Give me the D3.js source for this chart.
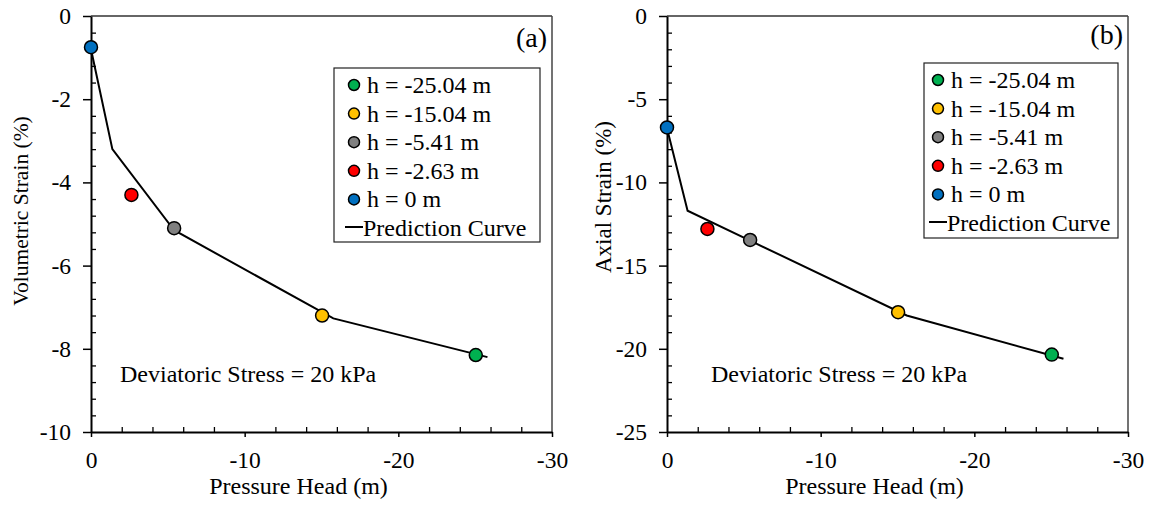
<!DOCTYPE html>
<html><head><meta charset="utf-8">
<script src="https://cdn.jsdelivr.net/npm/d3@7/dist/d3.min.js"></script>
<style>
html,body{margin:0;padding:0;background:#fff;}
svg text{font-family:'Liberation Serif','Times New Roman','DejaVu Serif',serif !important;fill:#000;}
</style></head>
<body>
<svg id="chart" width="1153" height="506"></svg>
<script>
// ---- data ----
const seriesLabels = ["h = -25.04 m","h = -15.04 m","h = -5.41 m","h = -2.63 m","h = 0 m"];
const seriesColors = ["#00B050","#FFC000","#808080","#FF0000","#0070C0"];
const pressureHead = [-25.04,-15.04,-5.41,-2.63,0];
const volStrain = [-8.15,-7.2,-5.1,-4.3,-0.75];
const axialStrain = [-20.35,-17.8,-13.46,-12.8,-6.7];
const volCurveX = [0,-1.39,-5.41,-15.77,-25.8];
const volCurveY = [-0.8,-3.2,-5.15,-7.27,-8.2];
const axCurveX = [0,-1.34,-5.41,-15.6,-25.8];
const axCurveY = [-6.75,-11.7,-13.5,-18.0,-20.6];
const xTicks = [0,-10,-20,-30];
const volTicks = [0,-2,-4,-6,-8,-10];
const axTicks = [0,-5,-10,-15,-20,-25];

const FONT = "'Liberation Serif','Times New Roman','DejaVu Serif',serif";
const svg = d3.select("#chart").attr("font-family", FONT);
const W = 461, H = 416, TOP = 16;
const fmt = d => String(d);

function panel(opt){
  const g = svg.append("g").attr("transform",`translate(${opt.left},${TOP})`);
  const x = d3.scaleLinear().domain([0,-30]).range([0,W]);
  const y = d3.scaleLinear().domain([0,opt.ymin]).range([0,H]);

  // frame top/right
  g.append("line").attr("x1",0).attr("x2",W).attr("y1",0).attr("y2",0).attr("stroke","#333").attr("stroke-width",1.5);
  g.append("line").attr("x1",W).attr("x2",W).attr("y1",0).attr("y2",H).attr("stroke","#444").attr("stroke-width",1.5);

  // minor ticks (inside)
  const xMinor = d3.range(0,-30.01,-2).filter(v=>v%10!==0);
  g.append("g").attr("transform",`translate(0,${H})`)
    .call(d3.axisBottom(x).tickValues(xMinor).tickSize(-5).tickFormat(""))
    .call(s=>s.select(".domain").remove())
    .call(s=>s.selectAll("line").attr("stroke","#000").attr("stroke-width",1.3));
  const yMinor = d3.range(0,opt.ymin-0.001,-opt.minorStep).filter(v=>Math.abs(v/opt.majorStep-Math.round(v/opt.majorStep))>1e-6);
  g.append("g")
    .call(d3.axisLeft(y).tickValues(yMinor).tickSize(-5).tickFormat(""))
    .call(s=>s.select(".domain").remove())
    .call(s=>s.selectAll("line").attr("stroke","#000").attr("stroke-width",1.3));

  // major axes
  const xa = g.append("g").attr("transform",`translate(0,${H})`)
    .call(d3.axisBottom(x).tickValues(xTicks).tickSize(5).tickSizeOuter(0).tickFormat(fmt));
  xa.attr("font-family",FONT);
  xa.select(".domain").attr("stroke","#000").attr("stroke-width",2);
  xa.selectAll("line").attr("stroke","#000").attr("stroke-width",1.5);
  xa.selectAll("text").attr("font-size",23.5).attr("dy",null).attr("y",36);

  const ya = g.append("g")
    .call(d3.axisLeft(y).tickValues(opt.yTicks).tickSize(8).tickSizeOuter(0).tickFormat(fmt));
  ya.attr("font-family",FONT);
  ya.select(".domain").attr("stroke","#000").attr("stroke-width",2);
  ya.selectAll("line").attr("stroke","#000").attr("stroke-width",1.5);
  ya.selectAll("text").attr("font-size",23.5).attr("x",-20);

  // curve
  const curve = opt.cx.map((v,i)=>[v,opt.cy[i]]);
  g.append("path").datum(curve)
    .attr("d",d3.line().x(d=>x(d[0])).y(d=>y(d[1])))
    .attr("fill","none").attr("stroke","#000").attr("stroke-width",2);

  // points
  g.selectAll("circle.pt").data(pressureHead.map((h,i)=>({h,v:opt.vals[i],c:seriesColors[i]})))
    .enter().append("circle").attr("class","pt")
    .attr("cx",d=>x(d.h)).attr("cy",d=>y(d.v)).attr("r",6.5)
    .attr("fill",d=>d.c).attr("stroke","#000").attr("stroke-width",1.5);

  // panel label
  g.append("text").attr("x",W-5).attr("y",opt.tagY).attr("text-anchor","end")
    .attr("font-size",28).text(opt.tag);

  // legend
  const L = opt.legend;
  const lg = g.append("g").attr("transform",`translate(${L.x},${L.y})`);
  lg.append("rect").attr("width",L.w).attr("height",L.h).attr("fill","#fff").attr("stroke","#222").attr("stroke-width",1.2);
  const rowH = 28.6;
  seriesLabels.forEach((lab,i)=>{
    const cy = L.first + i*rowH;
    lg.append("circle").attr("cx",L.cx).attr("cy",cy).attr("r",5.5)
      .attr("fill",seriesColors[i]).attr("stroke","#000").attr("stroke-width",1.5);
    lg.append("text").attr("x",L.tx).attr("y",cy).attr("dy","0.33em").attr("font-size",24).text(lab);
  });
  const ly = L.first + 5*rowH;
  lg.append("line").attr("x1",L.cx-9).attr("x2",L.cx+9).attr("y1",ly-1).attr("y2",ly-1).attr("stroke","#000").attr("stroke-width",2);
  lg.append("text").attr("x",L.tx-4).attr("y",ly).attr("dy","0.33em").attr("font-size",24).text("Prediction Curve");

  // annotation
  g.append("text").attr("x",opt.annX).attr("y",382-TOP).attr("font-size",24).text("Deviatoric Stress = 20 kPa");

  // axis titles
  svg.append("text").attr("x",opt.left+W/2-23).attr("y",494).attr("text-anchor","middle")
    .attr("font-size",24).text("Pressure Head (m)");
  svg.append("text").attr("transform",`translate(${opt.ylabX},${opt.ylabY}) rotate(-90)`)
    .attr("text-anchor","middle").attr("font-size",opt.ylabSize).text(opt.ylab);
}

panel({left:91, ymin:-10, yTicks:volTicks, majorStep:2, minorStep:0.4, vals:volStrain,
  cx:volCurveX, cy:volCurveY, tag:"(a)", tagY:31,
  legend:{x:243,y:52,w:206,h:174,first:17,cx:20,tx:33},
  annX:29, ylab:"Volumetric Strain (%)", ylabX:28, ylabY:211, ylabSize:21.5});

panel({left:667, ymin:-25, yTicks:axTicks, majorStep:5, minorStep:1, vals:axialStrain,
  cx:axCurveX, cy:axCurveY, tag:"(b)", tagY:28,
  legend:{x:257,y:47,w:194,h:175,first:17,cx:14,tx:27},
  annX:44, ylab:"Axial Strain (%)", ylabX:611, ylabY:197, ylabSize:23});
</script>
</body></html>
